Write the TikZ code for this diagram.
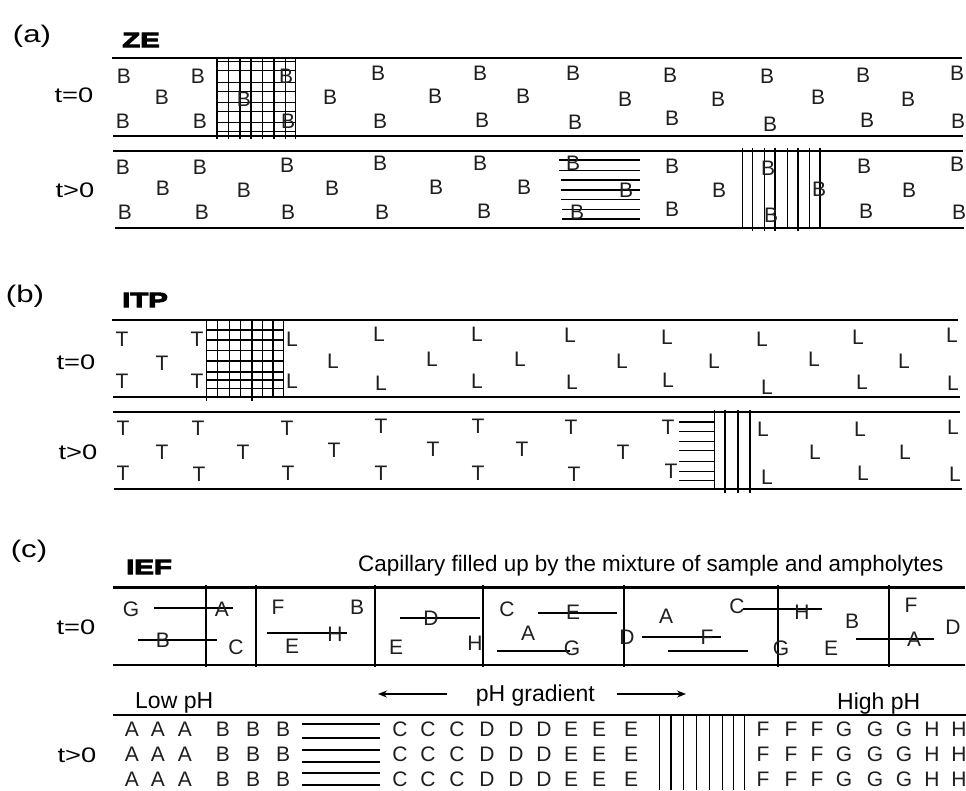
\documentclass[tikz,border=0pt]{standalone}
\usepackage{fontspec}
\setmainfont{Liberation Sans}
\newfontfamily\heavyfont[FakeBold=4]{Liberation Sans Bold}
\usetikzlibrary{arrows.meta}
\begin{document}
\begin{tikzpicture}[x=1pt,y=-1pt,
  wall/.style={line width=2.6pt},
  fine/.style={line width=1.2pt},
  lt/.style={inner sep=0pt, text=black!88, font=\fontsize{21}{21}\selectfont},
  tl/.style={inner sep=0pt, font=\fontsize{21}{21}\selectfont},
  pl/.style={inner sep=0pt, font=\fontsize{24}{24}\selectfont},
  hd/.style={inner sep=0pt, font=\heavyfont\fontsize{21}{21}\selectfont},
  captxt/.style={inner sep=0pt, font=\fontsize{22.4}{22}\selectfont},
  phtxt/.style={inner sep=0pt, font=\fontsize{23}{23}\selectfont},
  grad/.style={fine, -{Stealth[length=9pt,width=7pt]}},
]
\useasboundingbox[fill=white] (0,0) rectangle (966,790);

% ---------------- (a) ZE ----------------
\node[pl] (pa) at (32,36) {\scalebox{1.3}[1]{(a)}};
\node[hd] (ze) at (141,40) {\scalebox{1.4}[1]{ZE}};
\node[tl] (a0lab) at (74,95) {\scalebox{1.3}[1]{t=0}};
\node[tl] (a1lab) at (75,190) {\scalebox{1.3}[1]{t>0}};

\draw[wall] (112,58) -- (962,58);
\draw[wall] (113,136) -- (963,136);
\draw[wall] (113,151) -- (963,151);
\draw[wall] (115,228) -- (964,228);

% grid t=0
\foreach \gx in {217,228.3,240,251,262.7,274,285.7,295.7}
  \draw[fine] (\gx,58) -- (\gx,139);
\foreach \gy in {61.7,70.7,82.3,91.7,102.3,111.7,122.7,131.7}
  \draw[fine] (217,\gy) -- (296,\gy);

\foreach \x/\y [count=\i] in {124/76,198/76,286/76,378/73,480/73,573/73,670/75,767/76,863/75,957/73,
  162/97,244/99,330/97,435/96,523/96,625/99,718/99,818/97,908/99,
  123/121,200/121,288/121,380/121,482/120,575/122,672/118,770/124,867/120,958/121}
  \node[lt] (aB\i) at (\x,\y) {B};

% hatch t>0
\foreach \hy/\hx in {160/559,170.7/559,180/561,190/561,199.3/561,209.5/562,219/562}
  \draw[fine] (\hx,\hy) -- (640,\hy);
\foreach \vx/\vb in {742.3/228,752.5/231,764.3/231,775/231,787.3/228,798/231,809.7/228,820/228}
  \draw[fine] (\vx,148) -- (\vx,\vb);

\foreach \x/\y [count=\i] in {123/167,200/167,287/165,380/163,480/163,573/163,672/166,768/168,864/166,957/164,
  163/188,244/190,332/188,436/187,524/187,626/190,719/190,819/189,909/190,
  125/212,202/212,288/212,382/212,484/211,577/212,672/209,771/215,866/211,959/212}
  \node[lt] (aC\i) at (\x,\y) {B};

% ---------------- (b) ITP ----------------
\node[pl] (pb) at (25,296) {\scalebox{1.3}[1]{(b)}};
\node[hd] (itp) at (145,300) {\scalebox{1.4}[1]{ITP}};
\node[tl] (b0lab) at (76,362) {\scalebox{1.3}[1]{t=0}};
\node[tl] (b1lab) at (78,452) {\scalebox{1.3}[1]{t>0}};

\draw[wall] (112,320) -- (958,320);
\draw[wall] (113,397) -- (960,397);
\draw[wall] (113,412) -- (960,412);
\draw[wall] (114,489) -- (962,489);

\foreach \gx/\gb in {206.7/401,217.3/398,229.3/398,240.7/398,252/401,262.7/398,273/398,283.3/398}
  \draw[fine] (\gx,320) -- (\gx,\gb);
\foreach \gy in {330,340,350.5,361,372,380,388.5}
  \draw[fine] (206.7,\gy) -- (283.3,\gy);

\foreach \x/\y [count=\i] in {122/339,197/339,162/363,122/381,197/381}
  \node[lt] (bT\i) at (\x,\y) {T};
\foreach \x/\y [count=\i] in {292/339,379/334,477/334,570/335,667/337,762/339,858/337,952/335,
  333/361,432/359,520/359,622/361,714/361,814/359,904/361,
  292/381,381/383,477/381,572/382,668/380,767/387,862/382,953/383}
  \node[lt] (bL\i) at (\x,\y) {L};

\foreach \hy in {422,431.5,441.7,450.7,461.7,471.5,480.7}
  \draw[fine] (679,\hy) -- (714,\hy);
\foreach \vx/\vb in {714.2/490,725/493,738/493,750/493}
  \draw[fine] (\vx,410) -- (\vx,\vb);

\foreach \x/\y [count=\i] in {123/428,198/428,287/428,381/426,478/426,571/427,668/427,
  162/452,243/452,334/450,433/449,522/449,623/452,
  123/473,199/474,288/473,381/473,478/473,574/474,671/471}
  \node[lt] (bU\i) at (\x,\y) {T};
\foreach \x/\y [count=\i] in {763/429,860/429,953/427,815/452,905/452,767/477,863/473,955/474}
  \node[lt] (bM\i) at (\x,\y) {L};

% ---------------- (c) IEF ----------------
\node[pl] (pc) at (29,551) {\scalebox{1.3}[1]{(c)}};
\node[hd] (ief) at (149,567) {\scalebox{1.4}[1]{IEF}};
\node[captxt, anchor=base west] (cap) at (358,571.5) {Capillary filled up by the mixture of sample and ampholytes};
\node[tl] (c0lab) at (76,627) {\scalebox{1.3}[1]{t=0}};
\node[tl] (c1lab) at (77,755) {\scalebox{1.3}[1]{t>0}};

\draw[wall] (113,587.5) -- (965,587.5);
\draw[wall] (113,665) -- (965,665);
\foreach \sx in {206,256,375,483,624,778,889}
  \draw[fine] (\sx,585) -- (\sx,667);

% t=0 letters and lines
\draw[fine] (154,608) -- (233,608);
\draw[fine] (138,640) -- (217,640);
\draw[fine] (267,633) -- (347,633);
\draw[fine] (400,618) -- (480,618);
\draw[fine] (538,613) -- (617,613);
\draw[fine] (497,651) -- (570,651);
\draw[fine] (642,637) -- (721,637);
\draw[fine] (668,651) -- (748,651);
\draw[fine] (743,609) -- (822,609);
\draw[fine] (856,639) -- (934,639);

\node[lt] (cG1) at (131,609) {G};
\node[lt] (cA1) at (222,609) {A};
\node[lt] (cB1) at (163,640) {B};
\node[lt] (cC1) at (236,647) {C};
\node[lt] (cF1) at (278,607) {F};
\node[lt] (cB2) at (357,607) {B};
\node[lt] (cH1) at (335,634) {H};
\node[lt] (cE1) at (292,646) {E};
\node[lt] (cD1) at (431,618) {D};
\node[lt] (cE2) at (396,647) {E};
\node[lt] (cH2) at (475,643) {H};
\node[lt] (cC2) at (507,609) {C};
\node[lt] (cE3) at (573,612) {E};
\node[lt] (cA2) at (528,633) {A};
\node[lt] (cG2) at (572,648) {G};
\node[lt] (cD2) at (627,637) {D};
\node[lt] (cF2) at (707,637) {F};
\node[lt] (cA3) at (666,616) {A};
\node[lt] (cC3) at (737,606) {C};
\node[lt] (cH3) at (802,612) {H};
\node[lt] (cG3) at (781,648) {G};
\node[lt] (cB3) at (852,621) {B};
\node[lt] (cE4) at (831,648) {E};
\node[lt] (cF3) at (911,605) {F};
\node[lt] (cA4) at (914,639) {A};
\node[lt] (cD3) at (953,627) {D};

% pH gradient row
\node[phtxt, anchor=base west] (lowph) at (135,708) {Low pH};
\node[phtxt, anchor=base east] (phg) at (595,701.5) {pH gradient};
\node[phtxt, anchor=base west] (highph) at (837,709) {High pH};
\coordinate (la1) at (447,694);
\coordinate (la2) at (378,694);
\coordinate (ra1) at (617,694);
\coordinate (ra2) at (686,694);
\draw[grad] (la1) -- (la2);
\draw[grad] (ra1) -- (ra2);

% t>0
\draw[wall] (113,715) -- (966,715);
\foreach \hy in {724,738,750,762,773,785}
  \draw[fine] (302,\hy) -- (380,\hy);
\foreach \vx in {659.3,671,683.3,696.7,709.3,722.7,733.3,744.3}
  \draw[fine] (\vx,715) -- (\vx,790);

\foreach \y [count=\r] in {729,754,779}{
  \foreach \x/\t [count=\i] in {132/A,158/A,185/A,223/B,253/B,283/B,400/C,428/C,457/C,
    487/D,516/D,544/D,571/E,599/E,631/E,763/F,791/F,817/F,844/G,875/G,904/G,932/H,959/H}
    \node[lt] (cR\r-\i) at (\x,\y) {\t};
}
\end{tikzpicture}
\end{document}
